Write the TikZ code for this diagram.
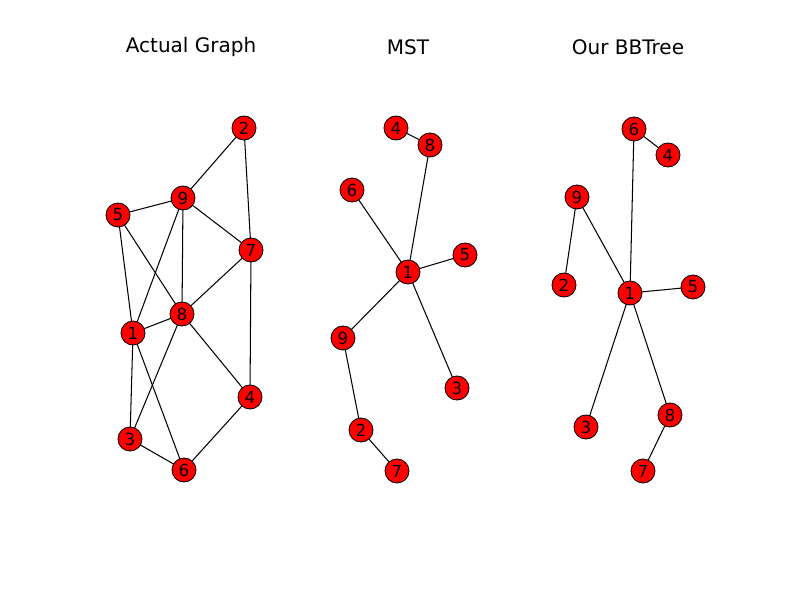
\documentclass[tikz,border=0pt]{standalone}
\usepackage{fontspec}
\setmainfont{DejaVu Sans}
\usetikzlibrary{positioning, backgrounds}
\tikzset{
  vert/.style={circle, draw=black, fill=red, line width=0.6pt, minimum size=17.3pt, inner sep=0pt, font=\fontsize{12}{12}\selectfont},
  edge/.style={draw=black, line width=0.75pt},
  ttl/.style={font=\fontsize{14.4}{16}\selectfont}
}
\begin{document}
\begin{tikzpicture}[x=0.72pt, y=-0.72pt]
  \useasboundingbox (0,0) rectangle (800,600);
  % titles
  \node[ttl] (t1) at (191,47) {Actual Graph};
  \node[ttl] (t2) at (408,47) {MST};
  \node[ttl] (t3) at (628,47) {Our BBTree};
  % actual graph
  \node[vert] (a2) at (244,128) {2};
  \node[vert] (a9) at (183,198) {9};
  \node[vert] (a5) at (118,215) {5};
  \node[vert] (a7) at (251,250) {7};
  \node[vert] (a1) at (133,333) {1};
  \node[vert] (a8) at (182,314) {8};
  \node[vert] (a4) at (250,397) {4};
  \node[vert] (a3) at (130,439) {3};
  \node[vert] (a6) at (184,470) {6};
  % MST
  \node[vert] (m4) at (396,128) {4};
  \node[vert] (m8) at (430,145) {8};
  \node[vert] (m6) at (352,190) {6};
  \node[vert] (m1) at (408,272) {1};
  \node[vert] (m5) at (465,255) {5};
  \node[vert] (m9) at (343,338) {9};
  \node[vert] (m3) at (457,388) {3};
  \node[vert] (m2) at (361,430) {2};
  \node[vert] (m7) at (397,471) {7};
  % BBTree
  \node[vert] (b6) at (634,129) {6};
  \node[vert] (b4) at (668,155) {4};
  \node[vert] (b9) at (577,197) {9};
  \node[vert] (b2) at (564,285) {2};
  \node[vert] (b1) at (630,293) {1};
  \node[vert] (b5) at (693,287) {5};
  \node[vert] (b3) at (586,427) {3};
  \node[vert] (b8) at (670,415) {8};
  \node[vert] (b7) at (643,471) {7};
  % edges, behind the nodes
  \begin{scope}[on background layer]
  \foreach \u/\v in {a2/a9, a2/a7, a9/a5, a9/a7, a9/a8, a9/a1, a5/a1, a5/a8, a7/a8, a7/a4, a8/a1, a8/a4, a8/a3, a1/a3, a1/a6, a3/a6, a6/a4,
                     m4/m8, m8/m1, m6/m1, m1/m5, m1/m9, m1/m3, m9/m2, m2/m7,
                     b6/b4, b6/b1, b9/b1, b9/b2, b1/b5, b1/b3, b1/b8, b8/b7}
    \draw[edge] (\u.center) -- (\v.center);
  \end{scope}
\end{tikzpicture}
\end{document}
